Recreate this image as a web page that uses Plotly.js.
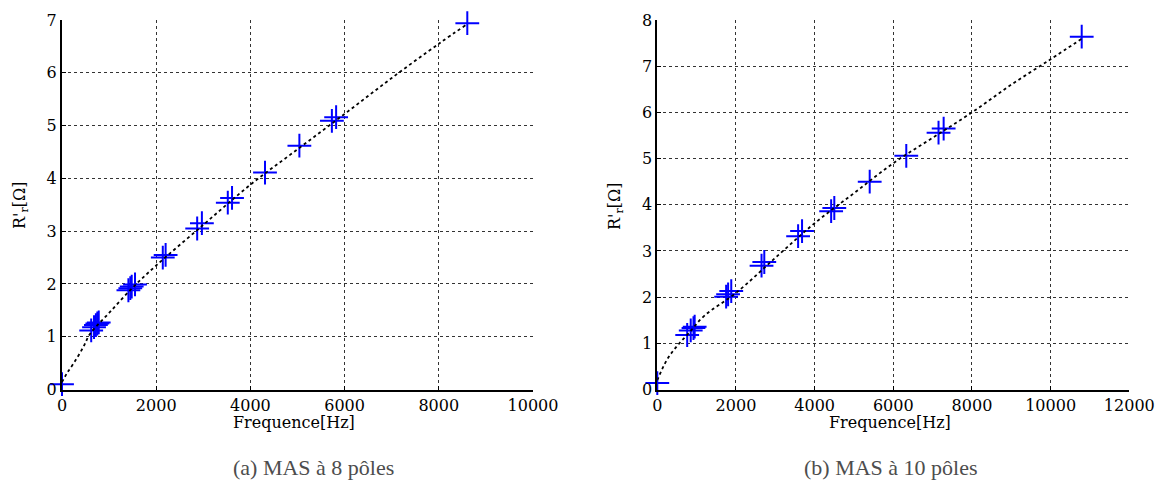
<!DOCTYPE html>
<html><head><meta charset="utf-8">
<script src="https://cdn.plot.ly/plotly-3.0.1.min.js"></script>
<style>html,body{margin:0;padding:0;background:#fff}#chart{width:1158px;height:488px}</style>
</head><body><div id="chart"></div>
<script>
// (a) MAS à 8 pôles — measured points
const freqA = [0, 620, 680, 720, 750, 780, 1410, 1450, 1480, 1550, 2140, 2200, 2870, 2970, 3520, 3610, 4310, 5040, 5730, 5820, 8605];
const resA  = [0.10, 1.12, 1.18, 1.22, 1.25, 1.27, 1.88, 1.92, 1.95, 1.99, 2.50, 2.55, 3.05, 3.15, 3.54, 3.63, 4.11, 4.62, 5.09, 5.16, 6.94];
// (a) fitted curve
const fitFreqA = [0, 100, 250, 450, 600, 1000, 1500, 2000, 3000, 4000, 5000, 6000, 7000, 8000, 8600];
const fitResA  = [0.14, 0.30, 0.50, 0.80, 1.06, 1.45, 1.93, 2.35, 3.12, 3.88, 4.55, 5.22, 5.90, 6.55, 6.92];

// (b) MAS à 10 pôles — measured points
const freqB = [0, 760, 850, 920, 950, 1750, 1800, 1880, 2650, 2720, 3580, 3680, 4420, 4500, 5400, 6330, 7150, 7280, 10790];
const resB  = [0.14, 1.18, 1.28, 1.33, 1.36, 2.01, 2.06, 2.13, 2.68, 2.76, 3.32, 3.43, 3.86, 3.93, 4.50, 5.06, 5.56, 5.65, 7.64];
// (b) fitted curve
const fitFreqB = [0, 250, 500, 800, 1200, 2000, 3000, 4000, 5000, 6000, 7000, 8000, 9000, 10000, 10800];
const fitResB  = [0.20, 0.65, 0.94, 1.22, 1.60, 2.09, 2.85, 3.60, 4.25, 4.90, 5.45, 6.00, 6.60, 7.15, 7.60];

const xTickA = [0, 2000, 4000, 6000, 8000, 10000];
const yTickA = [0, 1, 2, 3, 4, 5, 6, 7];
const xTickB = [0, 2000, 4000, 6000, 8000, 10000, 12000];
const yTickB = [0, 1, 2, 3, 4, 5, 6, 7, 8];

const xTitle = 'Frequence[Hz]';
const yTitle = "R'<sub>r</sub>[Ω]";
const captionA = '(a) MAS à 8 pôles';
const captionB = '(b) MAS à 10 pôles';

const markerStyle = () => ({symbol: 'cross-thin', size: 17, color: '#0000ff', line: {color: '#0000ff', width: 2}});
const lineStyle = () => ({color: '#000', width: 1.8, dash: 'dot', shape: 'spline'});

const traces = [
  {x: freqA, y: resA, mode: 'markers', marker: markerStyle(), xaxis: 'x', yaxis: 'y', cliponaxis: false, showlegend: false},
  {x: fitFreqA, y: fitResA, mode: 'lines', line: lineStyle(), xaxis: 'x', yaxis: 'y', showlegend: false},
  {x: freqB, y: resB, mode: 'markers', marker: markerStyle(), xaxis: 'x2', yaxis: 'y2', cliponaxis: false, showlegend: false},
  {x: fitFreqB, y: fitResB, mode: 'lines', line: lineStyle(), xaxis: 'x2', yaxis: 'y2', showlegend: false}
];

function axis(domain, range, tv, anchor) {
  return {domain, range, tickvals: tv, ticktext: tv.map(String), anchor,
    showline: true, linecolor: '#000', linewidth: 2, mirror: false,
    showgrid: true, gridcolor: '#333', griddash: '3px,3px', gridwidth: 1,
    zeroline: false, ticks: 'inside', ticklen: 4, tickcolor: '#000', tickwidth: 1,
    tickfont: {family: 'DejaVu Serif', size: 16, color: '#000'}, fixedrange: true};
}

const yDom = [1 - 389.5/488, 1 - 20/488];
const layout = {
  width: 1158, height: 488,
  margin: {l: 0, r: 0, t: 0, b: 0},
  font: {family: 'DejaVu Serif', size: 16, color: '#000'},
  paper_bgcolor: '#fff', plot_bgcolor: '#fff',
  xaxis: axis([62/1158, 533/1158], [0, 10000], xTickA, 'y'),
  yaxis: axis(yDom, [0, 7], yTickA, 'x'),
  xaxis2: axis([657.3/1158, 1129.3/1158], [0, 12000], xTickB, 'y2'),
  yaxis2: axis(yDom, [0, 8], yTickB, 'x2'),
  annotations: [
    {text: xTitle, xref: 'paper', yref: 'paper', x: 294/1158, y: 1 - 422/488, showarrow: false,
     font: {family: 'DejaVu Serif', size: 16, color: '#000'}, xanchor: 'center', yanchor: 'middle'},
    {text: xTitle, xref: 'paper', yref: 'paper', x: 890/1158, y: 1 - 422/488, showarrow: false,
     font: {family: 'DejaVu Serif', size: 16, color: '#000'}, xanchor: 'center', yanchor: 'middle'},
    {text: yTitle, xref: 'paper', yref: 'paper', x: 20/1158, y: 1 - 205/488, textangle: -90, showarrow: false,
     font: {family: 'DejaVu Serif', size: 16, color: '#000'}, xanchor: 'center', yanchor: 'middle'},
    {text: yTitle, xref: 'paper', yref: 'paper', x: 615/1158, y: 1 - 206/488, textangle: -90, showarrow: false,
     font: {family: 'DejaVu Serif', size: 16, color: '#000'}, xanchor: 'center', yanchor: 'middle'},
    {text: captionA, xref: 'paper', yref: 'paper', x: 313/1158, y: 1 - 467/488, showarrow: false,
     font: {family: 'Liberation Serif', size: 22, color: '#4d4d4d'}, xanchor: 'center', yanchor: 'middle'},
    {text: captionB, xref: 'paper', yref: 'paper', x: 891/1158, y: 1 - 467/488, showarrow: false,
     font: {family: 'Liberation Serif', size: 22, color: '#4d4d4d'}, xanchor: 'center', yanchor: 'middle'}
  ]
};
Plotly.newPlot('chart', traces, layout, {staticPlot: true, displayModeBar: false});
</script></body></html>
